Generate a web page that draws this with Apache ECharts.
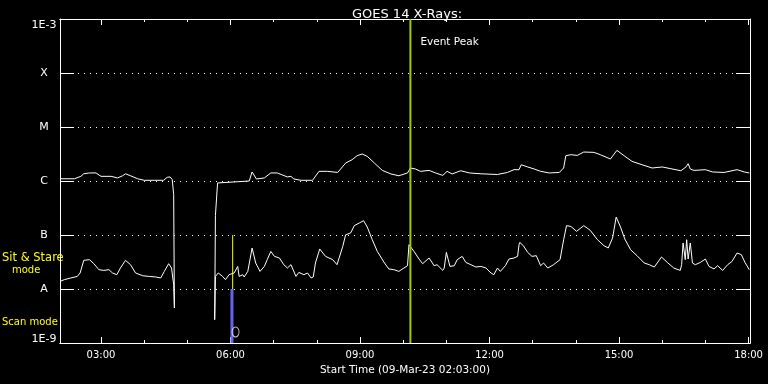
<!DOCTYPE html>
<html>
<head>
<meta charset="utf-8">
<script src="https://cdn.jsdelivr.net/npm/echarts@6/dist/echarts.min.js"></script>
<style>
html,body{margin:0;padding:0;background:#000;}
#chart{width:768px;height:384px;}
</style>
</head>
<body>
<div id="chart"></div>
<script>
// ---- data ----
const titleText = 'GOES 14 X-Rays:';
const startTime = '02:03';
const endTime = '18:02';
const startLabel = 'Start Time (09-Mar-23 02:03:00)';
const eventPeak = '10:10';
const yTickLabels = ['1E-9', 'A', 'B', 'C', 'M', 'X', '1E-3'];

const longTimes = ['02:03','02:23','02:32','02:36','02:44','02:53','03:00','03:14','03:23','03:30','03:34','03:41','03:51','04:00','04:14','04:27','04:32','04:36','04:39','04:41','04:42','05:10','05:38','05:39','05:42','05:44','06:26','06:30','06:36','06:47','06:56','07:05','07:19','07:24','07:28','07:38','07:54','08:03','08:15','08:29','08:40','08:49','08:56','09:03','09:10','09:20','09:31','09:43','09:54','10:06','10:10','10:17','10:24','10:36','10:45','10:55','11:01','11:08','11:20','11:32','11:48','12:11','12:25','12:34','12:41','12:44','12:53','13:02','13:11','13:23','13:37','13:43','13:46','13:53','14:02','14:11','14:25','14:34','14:48','14:57','15:07','15:18','15:32','15:46','16:00','16:12','16:26','16:33','16:36','16:39','16:44','17:00','17:10','17:26','17:44','17:54','18:01'];
const longFlux = [1.10e-6,1.10e-6,1.22e-6,1.36e-6,1.41e-6,1.41e-6,1.22e-6,1.22e-6,1.14e-6,1.25e-6,1.36e-6,1.25e-6,1.10e-6,1.03e-6,1.03e-6,1.03e-6,1.17e-6,1.19e-6,1.06e-6,5.6e-7,4.5e-9,null,2.7e-9,2.28e-7,9.2e-7,1.0e-6,1.0e-6,1.47e-6,1.09e-6,1.14e-6,1.41e-6,1.41e-6,1.19e-6,1.22e-6,1.09e-6,1.03e-6,1.03e-6,1.51e-6,1.51e-6,1.44e-6,2.15e-6,2.48e-6,2.94e-6,3.16e-6,2.86e-6,2.15e-6,1.57e-6,1.35e-6,1.25e-6,1.41e-6,1.74e-6,1.67e-6,1.51e-6,1.57e-6,1.41e-6,1.27e-6,1.51e-6,1.35e-6,1.55e-6,1.41e-6,1.36e-6,1.32e-6,1.44e-6,1.62e-6,1.62e-6,2.0e-6,1.82e-6,1.67e-6,1.51e-6,1.41e-6,1.44e-6,1.74e-6,2.94e-6,3.07e-6,2.98e-6,3.44e-6,3.39e-6,3.07e-6,2.55e-6,3.69e-6,2.94e-6,2.31e-6,2.0e-6,1.74e-6,1.82e-6,1.69e-6,1.55e-6,1.82e-6,2.09e-6,1.67e-6,1.57e-6,1.62e-6,1.47e-6,1.44e-6,1.62e-6,1.47e-6,1.41e-6];

const shortTimes = ['02:03','02:09','02:18','02:27','02:31','02:36','02:44','02:50','02:57','03:04','03:11','03:16','03:22','03:27','03:34','03:41','03:48','03:58','04:07','04:16','04:23','04:28','04:34','04:38','04:41','04:42','05:10','05:38','05:39','05:43','05:49','05:53','05:58','06:00','06:05','06:10','06:12','06:17','06:19','06:24','06:26','06:30','06:35','06:41','06:47','06:51','06:56','07:01','07:08','07:14','07:19','07:24','07:31','07:35','07:42','07:47','07:52','07:55','07:58','08:04','08:12','08:22','08:28','08:36','08:40','08:47','08:52','08:59','09:05','09:10','09:17','09:24','09:34','09:40','09:47','09:54','10:01','10:06','10:08','10:15','10:22','10:27','10:36','10:43','10:47','10:55','10:57','11:00','11:05','11:11','11:15','11:22','11:27','11:34','11:41','11:48','11:55','12:02','12:06','12:11','12:15','12:22','12:27','12:34','12:39','12:41','12:42','12:47','12:53','12:59','13:05','13:11','13:15','13:21','13:29','13:38','13:43','13:47','13:53','14:01','14:11','14:20','14:30','14:39','14:45','14:51','14:56','15:02','15:08','15:16','15:25','15:35','15:42','15:49','15:59','16:07','16:16','16:25','16:27','16:29','16:32','16:34','16:36','16:39','16:42','16:46','16:53','17:00','17:05','17:12','17:17','17:24','17:31','17:37','17:44','17:50','17:55','18:01'];
const shortFlux = [1.38e-8,1.49e-8,1.60e-8,1.71e-8,1.98e-8,3.39e-8,3.49e-8,2.94e-8,2.28e-8,2.21e-8,2.28e-8,1.98e-8,1.84e-8,2.45e-8,3.39e-8,2.82e-8,1.98e-8,1.76e-8,1.71e-8,1.67e-8,1.60e-8,2.12e-8,2.94e-8,2.45e-8,1.20e-8,4.45e-9,null,2.7e-9,1.71e-8,1.98e-8,1.71e-8,1.49e-8,1.84e-8,1.71e-8,1.98e-8,2.62e-8,1.71e-8,1.84e-8,1.67e-8,2.12e-8,2.28e-8,5.74e-8,3.03e-8,2.12e-8,2.62e-8,3.49e-8,4.97e-8,4.02e-8,3.75e-8,2.82e-8,2.45e-8,2.82e-8,1.71e-8,2.03e-8,1.84e-8,1.98e-8,1.60e-8,1.67e-8,3.03e-8,5.51e-8,4.02e-8,3.49e-8,2.82e-8,6.15e-8,1.01e-7,1.09e-7,1.49e-7,1.67e-7,1.84e-7,1.41e-7,8.18e-8,4.97e-8,3.03e-8,2.35e-8,2.28e-8,2.12e-8,2.45e-8,2.70e-8,6.61e-8,4.97e-8,3.59e-8,2.94e-8,3.75e-8,2.70e-8,2.82e-8,2.21e-8,2.45e-8,4.76e-8,2.62e-8,2.70e-8,3.49e-8,4.02e-8,3.11e-8,2.82e-8,2.55e-8,2.62e-8,2.45e-8,1.98e-8,1.84e-8,2.45e-8,2.12e-8,2.70e-8,3.59e-8,3.75e-8,4.02e-8,6.61e-8,7.29e-8,6.34e-8,4.76e-8,4.02e-8,4.14e-8,2.70e-8,3.03e-8,2.45e-8,2.82e-8,3.49e-8,8.18e-8,1.49e-7,1.44e-7,1.17e-7,1.49e-7,1.22e-7,8.18e-8,6.34e-8,5.74e-8,8.80e-8,2.15e-7,1.41e-7,8.43e-8,5.34e-8,4.14e-8,3.03e-8,2.82e-8,2.55e-8,3.91e-8,3.11e-8,2.45e-8,2.21e-8,2.82e-8,7.11e-8,3.49e-8,8.18e-8,3.59e-8,7.11e-8,3.03e-8,2.82e-8,3.11e-8,3.59e-8,2.62e-8,2.35e-8,2.70e-8,2.21e-8,2.82e-8,3.24e-8,4.64e-8,4.32e-8,3.11e-8,2.28e-8];

const scanModeTime = '06:02';
const scanModeRange = [1e-9, 1e-8];
const stareModeTime = '06:03';
const stareModeRange = [1e-8, 1e-7];
const markerTime = '06:07';
const markerFlux = 1.6e-9;
const modeLabels = ['Sit & Stare', 'mode', 'Scan mode'];

// ---- helpers ----
const toMin = s => { const p = s.split(':').map(Number); return p[0] * 60 + p[1]; };
const fmt = v => String(Math.floor(v / 60)).padStart(2, '0') + ':' + String(v % 60).padStart(2, '0');
const pairs = (ts, vs) => ts.map((t, i) => [toMin(t), vs[i] == null ? '-' : vs[i]]);
const FONT = 'DejaVu Sans';

const chart = echarts.init(document.getElementById('chart'), null, { renderer: 'canvas' });

function xAxisDef(position, step, tickLen, withLabels) {
  const a = {
    type: 'value', position: position, min: toMin(startTime), max: toMin(endTime),
    minInterval: step, maxInterval: step,
    axisLine: { show: true, onZero: false, lineStyle: { color: '#ffffff', width: 1 } },
    axisTick: { show: true, inside: true, length: tickLen, lineStyle: { color: '#ffffff', width: 1 } },
    splitLine: { show: false },
    axisLabel: { show: false }
  };
  if (withLabels) {
    a.axisLabel = { show: true, color: '#fff', fontSize: 10, fontFamily: FONT, margin: 7,
      formatter: v => (v % 180 === 0 ? fmt(v) : '') };
    a.name = startLabel;
    a.nameLocation = 'middle';
    a.nameGap = 19;
    a.nameTextStyle = { color: '#fff', fontSize: 10.5, fontFamily: FONT };
  }
  return a;
}
function yAxisDef(position, withLabels) {
  const a = {
    type: 'log', logBase: 10, min: 1e-9, max: 1e-3, position: position,
    axisLine: { show: true, onZero: false, lineStyle: { color: '#ffffff', width: 1 } },
    axisTick: { show: true, inside: true, length: 14, lineStyle: { color: '#ffffff', width: 1 } },
    splitLine: { show: false },
    axisLabel: { show: false }
  };
  if (withLabels) {
    a.axisLabel = {
      show: true, color: '#fff', fontSize: 11, fontFamily: FONT, align: 'center', margin: 16,
      formatter: v => {
        const i = Math.round(Math.log10(v)) + 9;
        const lab = yTickLabels[i];
        if (i === 0) return '{lo|' + lab + '}';
        if (i === yTickLabels.length - 1) return '{hi|' + lab + '}';
        return lab;
      },
      rich: {
        lo: { color: '#fff', fontSize: 11, fontFamily: FONT, padding: [0, 0, 8, 0] },
        hi: { color: '#fff', fontSize: 11, fontFamily: FONT, padding: [12, 0, 0, 0] }
      }
    };
    a.splitLine = { show: true, lineStyle: { color: '#fff', width: 1, type: [1, 5] } };
  }
  return a;
}

chart.setOption({
  backgroundColor: '#000',
  animation: false,
  title: {
    text: titleText, left: 402, top: 3, textAlign: 'center',
    textStyle: { color: '#fff', fontSize: 13, fontWeight: 'normal', fontFamily: FONT }
  },
  grid: { left: 60, right: 18, top: 19, bottom: 41 },
  xAxis: [
    xAxisDef('bottom', 180, 6, true),
    xAxisDef('bottom', 60, 3, false),
    xAxisDef('top', 180, 6, false),
    xAxisDef('top', 60, 3, false)
  ],
  yAxis: [
    yAxisDef('left', true),
    yAxisDef('right', false)
  ],
  series: [
    { type: 'line', name: 'long', data: pairs(longTimes, longFlux), symbol: 'none', connectNulls: false,
      lineStyle: { color: '#fff', width: 1 }, z: 3 },
    { type: 'line', name: 'short', data: pairs(shortTimes, shortFlux), symbol: 'none', connectNulls: false,
      lineStyle: { color: '#fff', width: 1 }, z: 3 },
    { type: 'line', name: 'scan', data: scanModeRange.map(v => [toMin(scanModeTime), v]), symbol: 'none',
      lineStyle: { color: '#6464f0', width: 3 }, z: 4 },
    { type: 'line', name: 'stare', data: stareModeRange.map(v => [toMin(stareModeTime), v]), symbol: 'none',
      lineStyle: { color: '#ffff00', width: 1 }, z: 4 },
    { type: 'line', name: 'peak', data: [[toMin(eventPeak), 1e-9], [toMin(eventPeak), 1e-3]], symbol: 'none',
      lineStyle: { color: '#9ccc00', width: 2 }, z: 5 },
    { type: 'scatter', name: 'marker', data: [[toMin(markerTime), markerFlux]], symbol: 'circle',
      symbolSize: [7, 10], itemStyle: { color: 'rgba(0,0,0,0)', borderColor: '#fff', borderWidth: 1 }, z: 5 }
  ]
});

const peakX = chart.convertToPixel({ xAxisIndex: 0 }, toMin(eventPeak));
const txt = (text, left, top, fill, size) => ({
  type: 'text', left: left, top: top,
  style: { text: text, fill: fill, fontSize: size, fontFamily: FONT }
});
chart.setOption({
  graphic: [
    txt('Event Peak', peakX + 10, 37, '#fff', 10.5),
    txt(modeLabels[0], 2, 252, '#ffff00', 11.5),
    txt(modeLabels[1], 12, 265, '#ffff00', 10),
    txt(modeLabels[2], 2, 317, '#ffff00', 10)
  ]
});
</script>
</body>
</html>
